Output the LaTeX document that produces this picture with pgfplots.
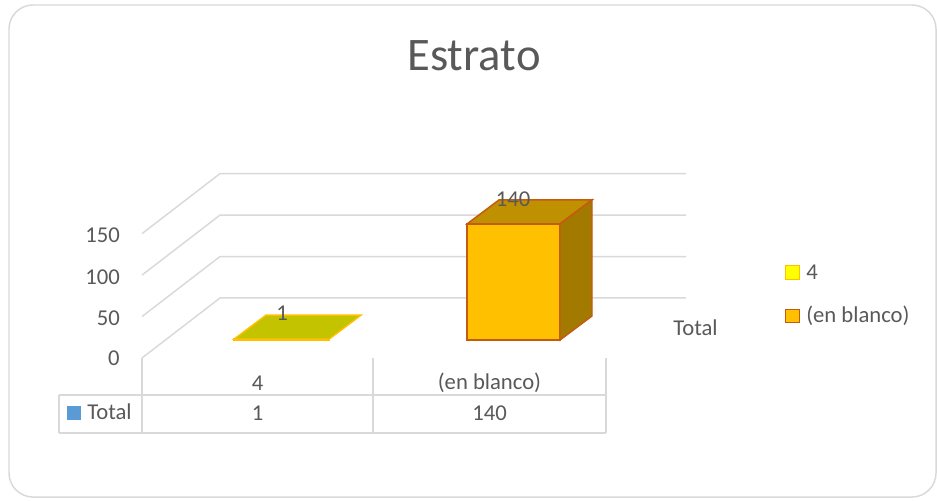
\documentclass[border=0pt]{standalone}
\usepackage{pgfplots}
\pgfplotsset{compat=1.18}
\usepackage{fontspec}
\setmainfont{Carlito}
\definecolor{gridc}{HTML}{D9D9D9}
\definecolor{txt}{HTML}{595959}
\definecolor{bone}{HTML}{FFFF00}
\definecolor{boneedge}{HTML}{FFC000}
\definecolor{bonetop}{HTML}{C3C300}
\definecolor{btwo}{HTML}{FFC000}
\definecolor{btwotop}{HTML}{BF9000}
\definecolor{btwoside}{HTML}{A37A00}
\definecolor{btwoedge}{HTML}{C55A11}
\definecolor{serblue}{HTML}{5B9BD5}
\tikzset{lab/.style={text=txt, font=\fontsize{17}{20}\selectfont}}
\begin{document}
\begin{tikzpicture}
\begin{axis}[x=0.75pt, y=0.62175pt, xmin=0, xmax=937, ymin=-193.0, ymax=410.13,
  axis lines=none, ticks=none, scale only axis, clip=false, no markers]
\coordinate (ll) at (axis cs:0,-193.0);
\coordinate (ur) at (axis cs:937,410.13);
% chart border
\draw[gridc, line width=1.1pt, rounded corners=18pt] (axis cs:9,404.1) rectangle (axis cs:936,-189.4);
% gridlines (front end, back wall)
\addplot[gridc, line width=1.1pt] coordinates {(142,-21.7) (220,50.7) (686,50.7)};
\addplot[gridc, line width=1.1pt] coordinates {(142,28.3) (220,100.7) (686,100.7)};
\addplot[gridc, line width=1.1pt] coordinates {(142,78.3) (220,150.7) (686,150.7)};
\addplot[gridc, line width=1.1pt] coordinates {(142,128.3) (220,200.7) (686,200.7)};
% data table lines
\addplot[gridc, line width=1.1pt] coordinates {(142,-21.7) (142,-112.2)};
\addplot[gridc, line width=1.1pt] coordinates {(373,-21.7) (373,-112.2)};
\addplot[gridc, line width=1.1pt] coordinates {(606,-21.7) (606,-112.2)};
\addplot[gridc, line width=1.1pt] coordinates {(59,-66.3) (606,-66.3)};
\addplot[gridc, line width=1.1pt] coordinates {(59,-112.2) (606,-112.2)};
\addplot[gridc, line width=1.1pt] coordinates {(59,-66.3) (59,-112.2)};
% bar "4" = 1
\addplot[ybar, bar width=71.25pt, bar shift=0pt, fill=bone, draw=boneedge, line width=1.1pt] coordinates {(281.5,1)};
\addplot[fill=bonetop, draw=boneedge, line width=1.1pt] coordinates {(234,1) (329,1) (361,30) (266,30)} -- cycle;
% bar "(en blanco)" = 140
\addplot[ybar, bar width=69.75pt, bar shift=0pt, fill=btwo, draw=btwoedge, line width=1.1pt] coordinates {(513.5,140)};
\addplot[fill=btwotop, draw=btwoedge, line width=1.1pt] coordinates {(467,140) (560,140) (592,169) (499,169)} -- cycle;
\addplot[fill=btwoside, draw=btwoedge, line width=1.1pt] coordinates {(560,0) (592,29) (592,169) (560,140)} -- cycle;
% data labels
\node[lab] at (axis cs:282,32.6) {1};
\node[lab] at (axis cs:513,170.1) {140};
% value axis labels
\node[lab, anchor=east, inner sep=0pt] at (axis cs:120,126.7) {150};
\node[lab, anchor=east, inner sep=0pt] at (axis cs:120,76.0) {100};
\node[lab, anchor=east, inner sep=0pt] at (axis cs:120,26.5) {50};
\node[lab, anchor=east, inner sep=0pt] at (axis cs:120,-21.7) {0};
% series (depth) axis label
\node[lab, anchor=west, inner sep=0pt] at (axis cs:673,14.5) {Total};
% title
\node[text=txt, font=\fontsize{35}{40}\selectfont] at (axis cs:474,342.6) {Estrato};
% data table text
\node[lab] at (axis cs:257.5,-51.9) {4};
\node[lab] at (axis cs:489.5,-51.9) {(en blanco)};
\node[lab] at (axis cs:257.5,-88.1) {1};
\node[lab] at (axis cs:489.5,-88.1) {140};
\node[fill=serblue, minimum size=10.5pt, inner sep=0pt] at (axis cs:74,-88.1) {};
\node[lab, anchor=west, inner sep=0pt] at (axis cs:87,-86.9) {Total};
% legend
\node[fill=bone, draw=boneedge, line width=0.9pt, minimum size=10pt, inner sep=0pt] at (axis cs:792.5,81.4) {};
\node[lab, anchor=west, inner sep=0pt] at (axis cs:806,82.0) {4};
\node[fill=btwo, draw=btwoedge, line width=0.9pt, minimum size=10pt, inner sep=0pt] at (axis cs:792.5,29.0) {};
\node[lab, anchor=west, inner sep=0pt] at (axis cs:806,29.0) {(en blanco)};
\end{axis}
\pgfresetboundingbox
\path (ll) rectangle (ur);
\end{tikzpicture}
\end{document}
